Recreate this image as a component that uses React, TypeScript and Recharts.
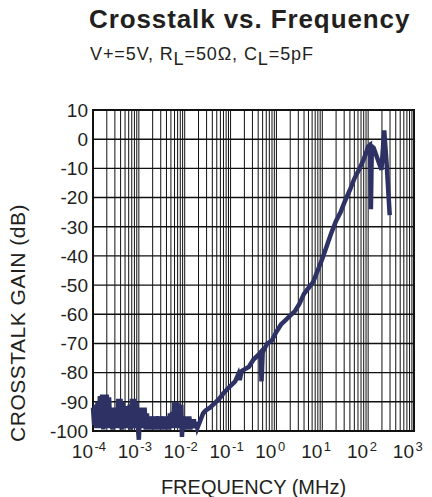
import React from 'react';
import { LineChart, Line, XAxis, YAxis, CartesianGrid, ReferenceArea } from 'recharts';

const FONT = '"Liberation Sans", Arial, Helvetica, sans-serif';
const INK = '#231f20';
const CURVE = '#2e3163';

const decadeExponents = [-4, -3, -2, -1, 0, 1, 2, 3];
const minorMultipliers = [1, 2, 3, 4, 5, 6, 7, 8, 9];
const gainTicks = [-100, -90, -80, -70, -60, -50, -40, -30, -20, -10, 0, 10];

// log10(frequency in MHz)
const logFreq = [
  -4.0, -3.975, -3.95, -3.925, -3.9, -3.875, -3.85, -3.825, -3.8, -3.775,
  -3.75, -3.725, -3.7, -3.675, -3.65, -3.625, -3.6, -3.575, -3.55, -3.525,
  -3.5, -3.475, -3.45, -3.425, -3.4, -3.375, -3.35, -3.325, -3.3, -3.275,
  -3.25, -3.225, -3.2, -3.175, -3.15, -3.125, -3.1, -3.075, -3.05, -3.025,
  -3.0, -2.975, -2.95, -2.925, -2.9, -2.875, -2.85, -2.825, -2.8, -2.775,
  -2.75, -2.725, -2.7, -2.675, -2.65, -2.625, -2.6, -2.575, -2.55, -2.525,
  -2.5, -2.475, -2.45, -2.425, -2.4, -2.375, -2.35, -2.325, -2.3, -2.275,
  -2.25, -2.225, -2.2, -2.175, -2.15, -2.125, -2.1, -2.075, -2.06, -2.04,
  -2.02, -2.0, -1.975, -1.95, -1.925, -1.9, -1.875, -1.85, -1.825, -1.8,
  -1.775, -1.75, -1.725, -1.7, -1.65, -1.6, -1.55, -1.45, -1.35, -1.25,
  -1.15, -1.0, -0.9, -0.83, -0.8, -0.76, -0.6, -0.5, -0.4, -0.345,
  -0.325, -0.3, -0.2, -0.1, 0.0, 0.1, 0.2, 0.3, 0.4, 0.5,
  0.6, 0.7, 0.8, 0.9, 1.0, 1.1, 1.2, 1.3, 1.4, 1.5,
  1.6, 1.7, 1.8, 1.9, 1.96, 2.0, 2.04, 2.06, 2.08, 2.12,
  2.2, 2.29, 2.35, 2.41, 2.47,
];

const gainDb = [
  -92, -98, -91, -99, -90, -99, -88, -98, -87.5, -99.5,
  -88, -97, -87.5, -99, -88.5, -98, -92, -99.5, -92, -98,
  -93, -99, -89, -98, -89, -99.5, -90, -98, -91.5, -99,
  -92, -98, -91, -99.5, -89, -98, -89, -99, -90, -98,
  -103, -92, -99, -93, -98, -92, -99.5, -94, -98, -95,
  -99.5, -95, -98, -96, -99.5, -95, -98, -95, -99.5, -96,
  -98, -95, -99.5, -95, -98, -96, -99.5, -94, -98, -93.5,
  -99, -90, -98, -90, -99, -90.5, -97, -91, -102, -95,
  -99, -95, -99.5, -95.5, -99, -95, -99.5, -96, -99, -96,
  -99, -97, -99, -98, -96, -94, -93, -92, -90.5, -89,
  -87, -84.5, -83, -80.5, -82.5, -79.5, -78, -75.5, -74, -73,
  -83, -73, -70, -69, -66, -63.5, -62, -60.5, -59, -56.5,
  -53, -51, -49, -45, -41, -36.5, -32, -28, -25, -21,
  -17.5, -13.5, -10.5, -7, -4.5, -2.5, -2, -24, -2.5, -3,
  -6.5, -10.5, 3, -10, -26,
];

const data = logFreq.map((e, i) => ({ f: Math.pow(10, e), g: gainDb[i] }));

const freqTicks: number[] = [];
decadeExponents.forEach((k) => {
  if (k === decadeExponents[decadeExponents.length - 1]) {
    freqTicks.push(Math.pow(10, k));
    return;
  }
  minorMultipliers.forEach((m) => freqTicks.push(Number((m * Math.pow(10, k)).toPrecision(3))));
});

const FreqTick = (props: any) => {
  const { x, y, payload } = props;
  const v = Number(payload?.value);
  const lg = Math.log10(v);
  const e = Math.round(lg);
  if (!isFinite(lg) || Math.abs(lg - e) > 1e-6) return <g />;
  return (
    <g>
      <text x={x} y={y + 27} textAnchor="end" fontSize={19} fill={INK} fontFamily={FONT}>
        10
      </text>
      <text x={x + 1.5} y={y + 20} textAnchor="start" fontSize={13} fill={INK} fontFamily={FONT}>
        {String(e)}
      </text>
    </g>
  );
};

const GainTick = (props: any) => {
  const { x, y, payload } = props;
  return (
    <text x={x} y={y} dy="0.36em" textAnchor="end" fontSize={19} fill={INK} fontFamily={FONT}>
      {String(payload.value)}
    </text>
  );
};

export default function App() {
  return (
    <div style={{ position: 'absolute', left: 0, top: 0, width: 432, height: 497, background: '#fff' }}>
      <style>{`.recharts-line, .recharts-line *, .recharts-line-curve { clip-path: none !important; }`}</style>
      <LineChart width={432} height={497} data={data} margin={{ top: 110, right: 18, bottom: 0, left: 0 }}>
        <CartesianGrid horizontal={false} vertical stroke="#111" strokeWidth={1} />
        <CartesianGrid horizontal vertical={false} stroke="#111" strokeWidth={1.4} />
        <XAxis
          type="number"
          dataKey="f"
          scale="log"
          domain={[1e-4, 1000]}
          ticks={freqTicks}
          interval={0}
          height={66}
          tickLine={false}
          axisLine={false}
          tickSize={0}
          tickMargin={0}
          tick={FreqTick}
        />
        <YAxis
          type="number"
          dataKey="g"
          domain={[-100, 10]}
          ticks={gainTicks}
          interval={0}
          allowDataOverflow
          width={93}
          tickLine={false}
          axisLine={false}
          tickSize={0}
          tickMargin={5}
          tick={GainTick}
        />
        <ReferenceArea
          x1={1e-4}
          x2={1000}
          y1={-100}
          y2={10}
          fill="none"
          fillOpacity={0}
          stroke="#111"
          strokeWidth={2}
          ifOverflow="visible"
        />
        <Line
          type="linear"
          dataKey="g"
          stroke={CURVE}
          strokeWidth={4.5}
          dot={false}
          activeDot={false}
          isAnimationActive={false}
        />
      </LineChart>
      <svg
        width={432}
        height={497}
        style={{ position: 'absolute', left: 0, top: 0, pointerEvents: 'none' }}
      >
        <text x={89} y={28} fontSize={26} fontWeight="bold" letterSpacing={0.9} fill={INK} fontFamily={FONT}>
          Crosstalk vs. Frequency
        </text>
        <text x={90} y={60} fontSize={18} letterSpacing={0.9} fill={INK} fontFamily={FONT}>
          V+=5V, R<tspan dy={5}>L</tspan>
          <tspan dy={-5}>=50Ω, C</tspan>
          <tspan dy={5}>L</tspan>
          <tspan dy={-5}>=5pF</tspan>
        </text>
        <text
          x={253.5}
          y={494}
          textAnchor="middle"
          fontSize={20}
          fill={INK}
          fontFamily={FONT}
        >
          FREQUENCY (MHz)
        </text>
        <text
          transform="translate(25,323) rotate(-90)"
          textAnchor="middle"
          fontSize={21}
          letterSpacing={0.5}
          fill={INK}
          fontFamily={FONT}
        >
          CROSSTALK GAIN (dB)
        </text>
      </svg>
    </div>
  );
}
